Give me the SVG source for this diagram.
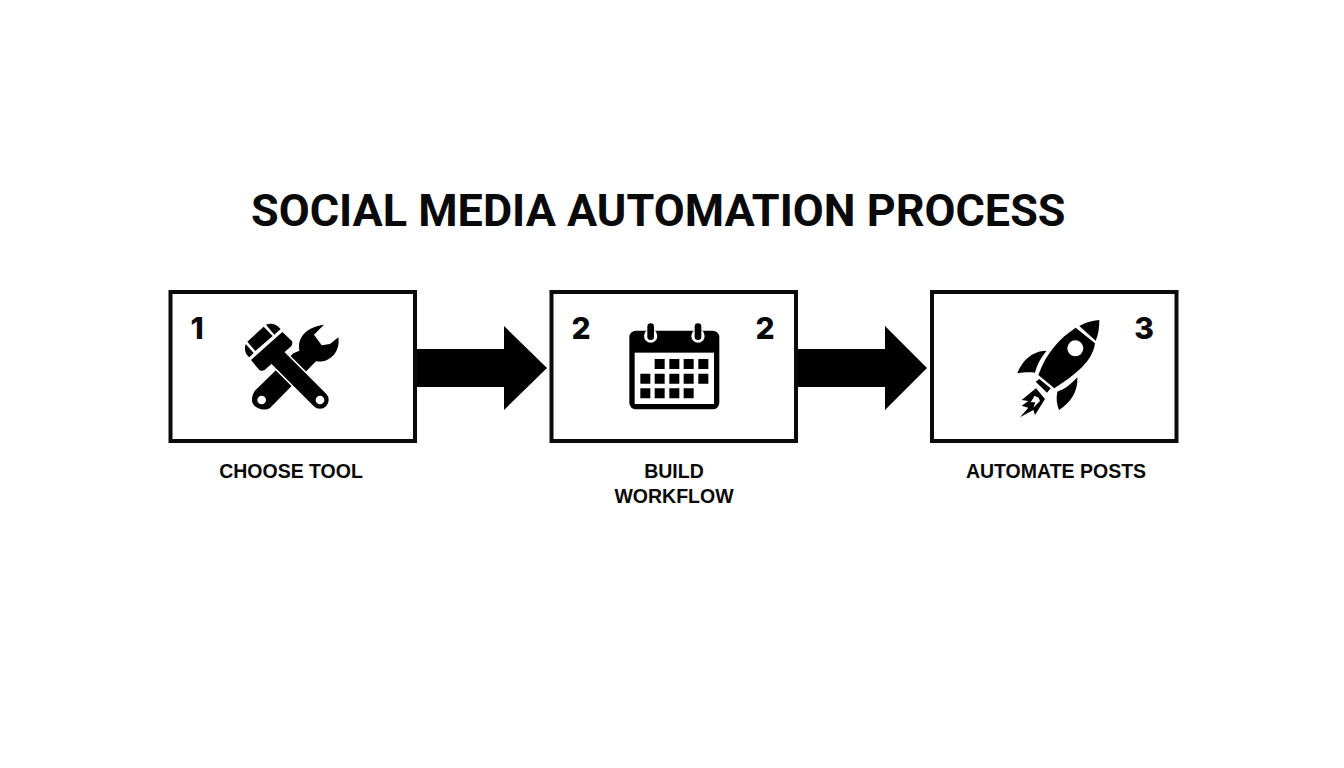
<svg xmlns="http://www.w3.org/2000/svg" width="1344" height="768" viewBox="0 0 1344 768">
<style>
.t{font-family:Roboto,"Liberation Sans",sans-serif;font-weight:700;fill:#0a0a0a}
.title{font-size:44.950px}
.lab{font-family:"Liberation Sans",Arial,sans-serif;font-size:19.500px;font-weight:700;text-anchor:middle}
.num{font-family:Inter,"Liberation Sans",sans-serif;font-size:30px;font-weight:800;text-anchor:middle}
.box{fill:#fff;stroke:#0a0a0a;stroke-width:4}
.k{fill:#000}
.w{fill:#fff}
</style>
<rect width="1344" height="768" fill="#fff"/>
<text class="t title" x="251" y="226">SOCIAL MEDIA AUTOMATION PROCESS</text>
<g id="connectors">
<polygon class="k" points="415,349 504,349 504,326 547,368 504,410 504,387 415,387"/>
<polygon class="k" points="796,349 885,349 885,326 927,368 885,410 885,387 796,387"/>
</g>
<g id="node1">
<rect class="box" x="170.500" y="292" width="244.500" height="149"/>
<text class="t num" x="197" y="339">1</text>
<g transform="translate(240 320) scale(.33333)">
<path class="k" d="M160 100L178 92C172 55 195 22 252 14L222 44L245 76L270 72L295 52C302 92 272 130 228 124L90 264C70 276 36 264 36 240C36 228 40 218 46 211Z"/>
<circle class="w" cx="65" cy="240" r="13"/>
<path d="M105 105L240 240" stroke="#fff" stroke-width="62" fill="none"/>
<path d="M105 105L240 240" stroke="#000" stroke-width="52" stroke-linecap="round" fill="none"/>
<path class="k" d="M33 120L127 36L155 62C159 68 157 76 150 82L74 150C67 154 60 153 56 148Z"/>
<path class="k" d="M78 14C92 8 110 12 122 27L103 44Z"/>
<path class="k" d="M71 20L98 48L46 93L22 65Z"/>
<path class="k" d="M17 72L41 99L28 112C16 103 12 88 17 72Z"/>
<circle class="w" cx="240" cy="240" r="13"/>
</g>
</g>
<g id="node2">
<rect class="box" x="551.500" y="292" width="244.500" height="149"/>
<text class="t num" x="581" y="339">2</text>
<text class="t num" x="765" y="339">2</text>
<g transform="translate(540 280) scale(.33333)">
<rect class="k" x="268" y="152" width="270" height="236" rx="20"/>
<rect class="w" x="284" y="218" width="238" height="154"/>
<rect class="w" x="312" y="148" width="40" height="40" rx="20"/>
<rect class="w" x="454" y="148" width="40" height="40" rx="20"/>
<rect class="k" x="322" y="130" width="20" height="50" rx="10"/>
<rect class="k" x="464" y="130" width="20" height="50" rx="10"/>
<path class="k" d="M344 237h30v30h-30zM388 237h30v30h-30zM431 237h30v30h-30zM475 237h30v30h-30zM301 281h30v30h-30zM344 281h30v30h-30zM388 281h30v30h-30zM431 281h30v30h-30zM475 281h30v30h-30zM301 325h30v30h-30zM344 325h30v30h-30zM388 325h30v30h-30zM431 325h30v30h-30z"/>
</g>
</g>
<g id="node3">
<rect class="box" x="932" y="292" width="244.500" height="149"/>
<text class="t num" x="1144" y="339">3</text>
<g transform="translate(920 280) scale(.33333)">
<path class="k" d="M538 120C515 122 495 128 478 138L527 182C535 165 538 142 538 120Z"/>
<path class="k" d="M467 143L525 190C520 230 490 270 403 325L355 285C380 215 420 175 467 143Z"/>
<circle class="w" cx="466" cy="205" r="24"/>
<polygon class="k" points="347,305 358,297 392,325 381,338"/>
<path class="k" d="M380 212C335 212 305 245 292 280C315 276 330 276 345 278C352 250 365 230 380 212Z"/>
<path class="k" d="M472 292C440 325 430 328 412 335C408 355 410 372 417 390C450 370 475 335 472 292Z"/>
</g>
<g transform="translate(1010 375) scale(.33333)">
<polygon class="k" points="78,40 35,75 55,78 35,92 55,98 30,127 70,105 75,120 105,72"/>
<polygon class="w" points="74,62 62,82 76,82 70,98 90,78 86,68"/>
</g>
</g>
<text class="t lab" x="291" y="478">CHOOSE TOOL</text>
<text class="t lab" x="674" y="478">BUILD</text>
<text class="t lab" x="674" y="503">WORKFLOW</text>
<text class="t lab" x="1056" y="478">AUTOMATE POSTS</text>
</svg>
